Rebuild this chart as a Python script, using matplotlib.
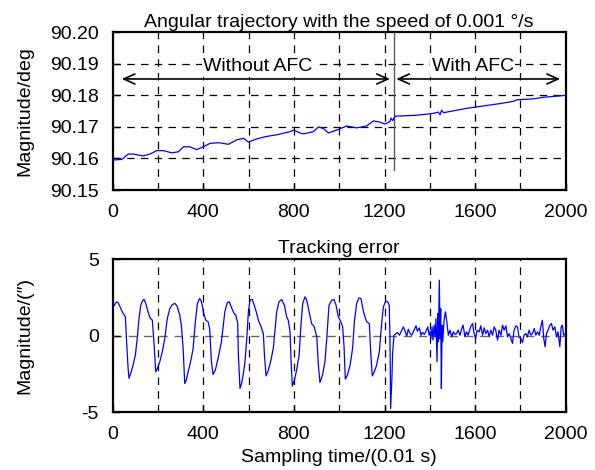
import matplotlib
matplotlib.use("Agg")
import matplotlib.pyplot as plt

plt.rcParams["font.family"] = ["Liberation Sans", "DejaVu Sans"]
plt.rcParams["font.size"] = 14
plt.rcParams["axes.unicode_minus"] = False

# Angular trajectory (sample index, degrees)
traj_x = [0, 40, 69, 91, 135, 165, 194, 224, 260, 290, 312, 341, 371, 400, 430,
          467, 511, 547, 577, 599, 636, 680, 724, 783, 798, 827, 842, 886, 908,
          930, 952, 989, 1033, 1077, 1121, 1151, 1180, 1202, 1224, 1229, 1236,
          1246, 1342, 1416, 1438, 1445, 1452, 1460, 1563, 1710, 1769, 1784,
          1857, 1901, 2000]
traj_y = [90.1595, 90.1597, 90.1614, 90.1614, 90.1608, 90.1614, 90.1625, 90.1625,
          90.1618, 90.1621, 90.1637, 90.1637, 90.1628, 90.1637, 90.1648,
          90.1650, 90.1645, 90.1659, 90.1664, 90.1652, 90.1662, 90.1670,
          90.1675, 90.1685, 90.1690, 90.1681, 90.1678, 90.1685, 90.1700,
          90.1695, 90.1681, 90.1690, 90.1703, 90.1697, 90.1703, 90.1719,
          90.1715, 90.1709, 90.1717, 90.1728, 90.1720, 90.1734, 90.1737,
          90.1743, 90.1747, 90.1738, 90.1753, 90.1745, 90.1759, 90.1774,
          90.1781, 90.1786, 90.1789, 90.1794, 90.1800]

# Tracking error (sample index, arcsec)
err_x = [0, 3, 16, 24, 35, 46, 56, 60, 68, 72, 79, 90, 100, 109, 116, 124, 131,
         138, 146, 156, 165, 175, 183, 190, 197, 208, 219, 230, 241, 252, 262,
         274, 284, 296, 303, 311, 318, 325, 333, 344, 355, 365, 374, 384, 392,
         402, 411, 421, 428, 436, 443, 453, 465, 480, 495, 506,
         515, 525, 536, 544, 552, 555, 562, 569, 577, 584, 592, 599, 606, 616,
         625, 636, 643, 655, 665, 670, 677, 687, 697, 709, 717, 724, 734, 746,
         758, 768, 775, 783, 787, 793, 802, 812, 823, 831, 839, 849, 856, 867,
         878, 890, 901, 908, 915, 926, 937, 945, 955, 967, 977, 986, 996, 1007,
         1015, 1021, 1027, 1036, 1048, 1059, 1067, 1077, 1087, 1096, 1107,
         1121, 1133, 1139, 1146, 1155, 1165, 1177, 1188, 1195, 1205, 1214,
         1221, 1224, 1227, 1232, 1236, 1242, 1251, 1257, 1266, 1276, 1283,
         1291, 1298, 1305, 1313, 1320, 1330, 1339, 1345, 1354, 1361, 1367,
         1376, 1383, 1391, 1397, 1401, 1405, 1410, 1414, 1419, 1423, 1427,
         1432, 1435, 1438, 1442, 1445, 1448, 1451, 1454, 1457, 1463, 1469,
         1475, 1482, 1489, 1497, 1504, 1511, 1518, 1525, 1533, 1540, 1547,
         1555, 1562, 1569, 1580, 1589, 1594, 1602, 1609, 1618, 1625, 1633,
         1640, 1647, 1655, 1662, 1669, 1677, 1684, 1691, 1699, 1706, 1714,
         1721, 1728, 1736, 1743, 1750, 1758, 1765, 1772, 1780, 1787, 1794,
         1802, 1809, 1816, 1824, 1831, 1838, 1846, 1853, 1861, 1868, 1875,
         1883, 1890, 1897, 1903, 1909, 1915, 1922, 1930, 1937, 1944, 1952,
         1959, 1966, 1974, 1980, 1985, 1991, 2000]
err_y = [1.70, 1.87, 2.20, 2.15, 1.80, 1.44, 1.22, 0.00, -2.16, -2.80, -2.50,
         -1.94, -1.29, -0.10, 1.10, 1.98, 2.24, 2.37, 2.10, 1.55, 1.15, 1.00,
         -0.63, -2.37, -2.16, -1.72, -1.07, -0.20, 1.10, 1.76, 2.00, 2.10,
         1.94, 1.33, 0.68, -0.85, -3.14, -2.92, -2.37, -1.72, -0.85, 0.90,
         2.10, 2.42, 2.20, 1.44, 1.00, 0.90, 0.46, -1.72, -2.55, -2.27, -1.50,
         -0.41, 1.55, 2.16,
         2.20, 1.80, 1.44, 1.33, 0.78, -1.29, -3.46, -3.14, -2.48, -1.72,
         -0.20, 1.55, 2.30, 2.37, 1.98, 1.44, 1.00, 0.57, 0.13, -1.29, -2.64,
         -2.27, -1.72, -0.85, 0.46, 1.55, 2.20, 2.35, 1.98, 1.22, 1.00, 0.24,
         -1.50, -3.31, -2.92, -2.27, -1.29, 0.68, 2.10, 2.53, 2.35, 1.55,
         0.78, 0.57, -0.09, -1.94, -3.07, -2.60, -1.72, -0.20, 1.98, 2.30,
         2.35, 1.98, 1.22, 0.90, 0.57, -0.63, -2.85, -2.60, -1.94, -0.85,
         0.90, 2.10, 2.46, 2.42, 1.55, 0.90, 0.78, -1.07, -2.64, -2.37, -1.94,
         -1.07, 0.90, 1.87, 2.24, 2.20, 1.98, -0.20, -4.77, -3.03, -1.07,
         0.02, 0.13, 0.20, 0.02, 0.35, 0.57, 0.28, -0.04, 0.41, 0.13, 0.02,
         0.35, 0.63, 0.28, 0.50, 0.02, 0.20, 0.07, 0.28, 0.57, 0.02, 0.28,
         -0.20, 0.57, -0.30, 0.68, -0.09, 1.10, -1.72, 1.44, -0.41, 3.62,
         -0.20, 1.76, -3.46, 0.68, -0.41, 1.00, 1.55, 0.90, 0.02, 0.35, -0.09,
         0.24, 0.07, 0.13, 0.35, 0.02, 0.41, 0.68, -0.09, 0.24, 0.02, 0.57,
         0.78, 0.24, -0.20, 0.35, 0.24, 0.63, 0.02, 0.50, 0.13, 0.35, -0.09,
         0.35, 0.02, 0.57, 0.35, -0.30, 0.35, 0.02, 0.68, 0.35, 0.63, -0.09,
         0.13, -0.20, -0.52, 0.35, 0.63, 0.57, -0.09, -0.20, -0.46, 0.02,
         0.13, -0.09, 0.35, 0.02, 0.13, 0.46, 0.02, 0.24, 0.02, 0.57, 1.00,
         -0.20, -0.74, 0.13, 0.35, 0.68, 0.78, 0.35, 0.57, -0.09, 0.24,
         -0.74, 0.57, 0.68, 0.02, 0.13]

xticks = [0, 400, 800, 1200, 1600, 2000]
xgrid = [200, 400, 600, 800, 1000, 1200, 1400, 1600, 1800]
top_yticks = [90.15, 90.16, 90.17, 90.18, 90.19, 90.20]
bot_yticks = [-5, 0, 5]
switch_at = 1240

fig = plt.figure(figsize=(5.95, 4.70), dpi=100)
ax1 = fig.add_axes([0.1894, 0.5957, 0.7614, 0.3356])
ax2 = fig.add_axes([0.1894, 0.1234, 0.7614, 0.3255])

dash = (0, (6, 5))
for ax in (ax1, ax2):
    for s in ax.spines.values():
        s.set_linewidth(1.6)
    ax.tick_params(direction="in", length=5, width=1, pad=10)
    ax.set_xlim(0, 2000)
    ax.set_xticks(xticks)
    for g in xgrid:
        ax.axvline(g, color="black", ls=dash, lw=0.9, zorder=1)
    ax.yaxis.set_label_coords(-0.176, 0.5)

# top panel
ax1.plot(traj_x, traj_y, color="#0000ff", lw=0.9, zorder=3)
ax1.set_ylim(90.15, 90.20)
ax1.set_yticks(top_yticks)
ax1.set_yticklabels(["%.2f" % v for v in top_yticks])
for v in top_yticks[1:-1]:
    ax1.axhline(v, color="black", ls=dash, lw=0.9, zorder=1)
ax1.plot([switch_at, switch_at], [90.1563, 90.20], color="0.35", lw=1.0, zorder=2)
arrow = dict(arrowstyle="<->,head_length=0.4,head_width=0.18", color="black",
             lw=1.2, mutation_scale=20, shrinkA=0, shrinkB=0)
ax1.annotate("", xy=(40, 90.1852), xytext=(1224, 90.1852), arrowprops=arrow)
ax1.annotate("", xy=(1252, 90.1852), xytext=(1975, 90.1852), arrowprops=arrow)
box = dict(facecolor="white", edgecolor="none", pad=1.0)
ax1.text(642, 90.1891, "Without AFC", ha="center", va="center", bbox=box, zorder=4)
ax1.text(1590, 90.1891, "With AFC", ha="center", va="center", bbox=box, zorder=4)
ax1.set_ylabel("Magnitude/deg")
ax1.set_title("Angular trajectory with the speed of 0.001 \u00b0/s", fontsize=14, pad=4)

# bottom panel
ax2.plot(err_x, err_y, color="#0000ff", lw=0.9, zorder=3)
ax2.set_ylim(-5, 5)
ax2.set_yticks(bot_yticks)
ax2.axhline(0, color="0.4", ls=dash, lw=1.0, zorder=1)
ax2.set_ylabel("Magnitude/(\u2033)")
ax2.set_xlabel("Sampling time/(0.01 s)")
ax2.xaxis.set_label_coords(0.5, -0.245)
ax2.set_title("Tracking error", fontsize=14, pad=4)

fig.savefig("out.png", dpi=100)
